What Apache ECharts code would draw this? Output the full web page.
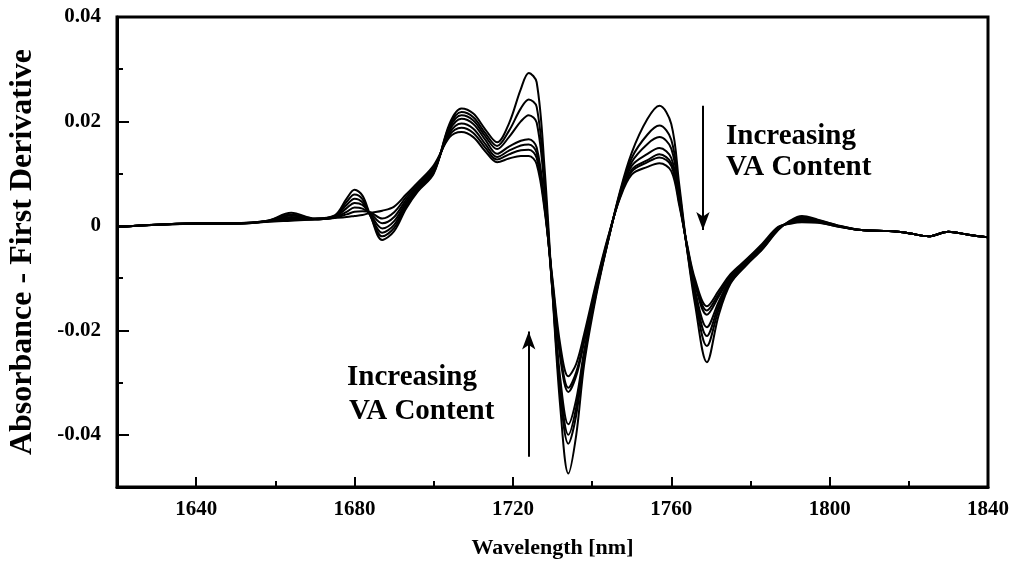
<!DOCTYPE html>
<html>
<head>
<meta charset="utf-8">
<script src="https://cdn.jsdelivr.net/npm/echarts@6/dist/echarts.min.js"></script>
<style>
  html, body { margin: 0; padding: 0; background: #fff; }
  #chart { width: 1010px; height: 567px; }
</style>
</head>
<body>
<div id="chart"></div>
<script>
// wavelength grid shared by all spectra (nm)
const wavelength = [
  1620, 1630, 1640, 1650, 1658, 1664, 1670, 1675, 1678, 1680,
  1682, 1684, 1687, 1690, 1693, 1696, 1700, 1704, 1707, 1710,
  1713, 1716, 1719, 1722, 1724, 1726, 1728, 1730, 1732, 1734,
  1736, 1738, 1741, 1744, 1747, 1750, 1754, 1757, 1760, 1762,
  1764, 1766, 1769, 1772, 1775, 1779, 1783, 1787, 1790, 1793,
  1797, 1802, 1808, 1815, 1820, 1825, 1830, 1835, 1840,
];

// first-derivative spectra, lowest VA content first
const spectrum1 = [
  -0.0002, 0.0002, 0.0005, 0.0005, 0.0010, 0.0025, 0.0014,
  0.0020, 0.0052, 0.0069, 0.0058, 0.0020, -0.0027, -0.0010, 0.0033, 0.0066, 0.0100,
  0.0196, 0.0225, 0.0215, 0.0185, 0.0160, 0.0196, 0.0262, 0.0293, 0.0275, 0.0110,
  -0.0130, -0.0350, -0.0474, -0.0400, -0.0265, -0.0135, -0.0030, 0.0065, 0.0140, 0.0205,
  0.0230, 0.0195, 0.0080, -0.0045, -0.0150, -0.0261, -0.0170, -0.0110, -0.0075, -0.0045,
  -0.0008, 0.0010, 0.0019, 0.0012, 0.0001, -0.0008, -0.0010, -0.0014, -0.0020, -0.0011,
  -0.0017, -0.0022,
];
const spectrum2 = [
  -0.0002, 0.0002, 0.0005, 0.0005, 0.0010, 0.0022, 0.0014,
  0.0019, 0.0046, 0.0060, 0.0051, 0.0019, -0.0020, -0.0004, 0.0037, 0.0068, 0.0102,
  0.0192, 0.0218, 0.0208, 0.0178, 0.0153, 0.0182, 0.0225, 0.0242, 0.0228, 0.0085,
  -0.0128, -0.0325, -0.0417, -0.0362, -0.0250, -0.0130, -0.0030, 0.0062, 0.0130, 0.0175,
  0.0192, 0.0165, 0.0068, -0.0045, -0.0138, -0.0230, -0.0160, -0.0108, -0.0074, -0.0044,
  -0.0007, 0.0009, 0.0017, 0.0011, 0.0001, -0.0008, -0.0010, -0.0014, -0.0020, -0.0011,
  -0.0017, -0.0022,
];
const spectrum3 = [
  -0.0002, 0.0002, 0.0005, 0.0005, 0.0009, 0.0020, 0.0013,
  0.0018, 0.0040, 0.0052, 0.0045, 0.0020, -0.0013, 0.0002, 0.0041, 0.0071, 0.0104,
  0.0188, 0.0212, 0.0202, 0.0172, 0.0147, 0.0170, 0.0200, 0.0212, 0.0198, 0.0070,
  -0.0125, -0.0310, -0.0400, -0.0347, -0.0245, -0.0128, -0.0030, 0.0060, 0.0122, 0.0157,
  0.0170, 0.0148, 0.0060, -0.0043, -0.0130, -0.0211, -0.0152, -0.0105, -0.0072, -0.0042,
  -0.0006, 0.0008, 0.0015, 0.0010, 0.0000, -0.0008, -0.0010, -0.0014, -0.0020, -0.0011,
  -0.0017, -0.0022,
];
const spectrum4 = [
  -0.0002, 0.0002, 0.0005, 0.0005, 0.0009, 0.0017, 0.0013,
  0.0017, 0.0034, 0.0044, 0.0040, 0.0022, -0.0005, 0.0009, 0.0045, 0.0073, 0.0106,
  0.0183, 0.0205, 0.0195, 0.0165, 0.0138, 0.0152, 0.0163, 0.0166, 0.0150, 0.0045,
  -0.0122, -0.0295, -0.0380, -0.0332, -0.0240, -0.0125, -0.0028, 0.0058, 0.0115, 0.0138,
  0.0149, 0.0130, 0.0052, -0.0042, -0.0123, -0.0194, -0.0145, -0.0102, -0.0070, -0.0040,
  -0.0005, 0.0007, 0.0013, 0.0009, 0.0000, -0.0008, -0.0010, -0.0014, -0.0020, -0.0011,
  -0.0017, -0.0022,
];
const spectrum5 = [
  -0.0002, 0.0002, 0.0004, 0.0005, 0.0009, 0.0015, 0.0013,
  0.0016, 0.0027, 0.0035, 0.0033, 0.0024, 0.0005, 0.0017, 0.0050, 0.0076, 0.0109,
  0.0178, 0.0196, 0.0186, 0.0157, 0.0132, 0.0144, 0.0154, 0.0156, 0.0140, 0.0040,
  -0.0112, -0.0255, -0.0318, -0.0287, -0.0222, -0.0118, -0.0026, 0.0056, 0.0108, 0.0126,
  0.0137, 0.0120, 0.0048, -0.0040, -0.0112, -0.0170, -0.0135, -0.0098, -0.0068, -0.0038,
  -0.0004, 0.0006, 0.0011, 0.0008, 0.0000, -0.0008, -0.0010, -0.0014, -0.0020, -0.0011,
  -0.0017, -0.0022,
];
const spectrum6 = [
  -0.0002, 0.0002, 0.0004, 0.0004, 0.0008, 0.0012, 0.0012,
  0.0016, 0.0022, 0.0027, 0.0028, 0.0026, 0.0014, 0.0026, 0.0055, 0.0079, 0.0112,
  0.0174, 0.0188, 0.0178, 0.0150, 0.0127, 0.0137, 0.0145, 0.0146, 0.0130, 0.0035,
  -0.0107, -0.0245, -0.0310, -0.0280, -0.0217, -0.0114, -0.0024, 0.0054, 0.0104, 0.0122,
  0.0131, 0.0115, 0.0045, -0.0038, -0.0108, -0.0162, -0.0130, -0.0095, -0.0066, -0.0036,
  -0.0003, 0.0005, 0.0009, 0.0007, -0.0001, -0.0008, -0.0010, -0.0014, -0.0020, -0.0011,
  -0.0017, -0.0022,
];
const spectrum7 = [
  -0.0002, 0.0002, 0.0004, 0.0004, 0.0008, 0.0010, 0.0012,
  0.0015, 0.0017, 0.0019, 0.0021, 0.0025, 0.0029, 0.0037, 0.0060, 0.0083, 0.0116,
  0.0170, 0.0180, 0.0170, 0.0143, 0.0122, 0.0129, 0.0134, 0.0134, 0.0118, 0.0030,
  -0.0102, -0.0230, -0.0288, -0.0264, -0.0207, -0.0110, -0.0022, 0.0052, 0.0098, 0.0113,
  0.0120, 0.0105, 0.0040, -0.0036, -0.0102, -0.0154, -0.0124, -0.0092, -0.0064, -0.0034,
  -0.0002, 0.0004, 0.0007, 0.0006, -0.0001, -0.0008, -0.0010, -0.0014, -0.0020, -0.0011,
  -0.0017, -0.0022,
];

const spectra = [spectrum1, spectrum2, spectrum3, spectrum4, spectrum5, spectrum6, spectrum7];

// axis ticks
const xMajorTicks = [1640, 1680, 1720, 1760, 1800, 1840];
const xMinorTicks = [1660, 1700, 1740, 1780, 1820];
const yMajorTicks = [-0.04, -0.02, 0, 0.02, 0.04];
const yMinorTicks = [-0.03, -0.01, 0.01, 0.03];

// annotation arrows [wavelength, from, to]
const arrowDown = [1768, 0.023, -0.0008];
const arrowUp = [1724, -0.0442, -0.0202];

const serif = '"Liberation Serif", "Times New Roman", serif';
const black = "#000";

function xAxisFor(ticks, major) {
  return {
    type: "value",
    min: 1620,
    max: 1840,
    position: "bottom",
    name: major ? "Wavelength [nm]" : "",
    nameLocation: "middle",
    nameGap: 50,
    nameTextStyle: { fontFamily: serif, fontWeight: "bold", fontSize: 22, color: black },
    axisLine: { show: major, onZero: false, lineStyle: { color: black, width: 3 } },
    axisTick: {
      inside: true,
      length: major ? 10 : 6,
      customValues: ticks,
      lineStyle: { color: black, width: 2 },
    },
    axisLabel: {
      show: major,
      customValues: ticks,
      margin: 12,
      fontFamily: serif,
      fontWeight: "bold",
      fontSize: 21,
      color: black,
      formatter: (v) => String(v),
    },
    splitLine: { show: false },
  };
}

function yAxisFor(ticks, major) {
  return {
    type: "value",
    min: -0.05,
    max: 0.04,
    position: "left",
    name: major ? "Absorbance - First Derivative" : "",
    nameLocation: "middle",
    nameGap: 78,
    nameTextStyle: { fontFamily: serif, fontWeight: "bold", fontSize: 32, color: black },
    axisLine: { show: major, onZero: false, lineStyle: { color: black, width: 3 } },
    axisTick: {
      inside: true,
      length: major ? 12 : 6,
      customValues: ticks,
      lineStyle: { color: black, width: 2 },
    },
    axisLabel: {
      show: major,
      customValues: ticks,
      margin: 16,
      fontFamily: serif,
      fontWeight: "bold",
      fontSize: 21,
      color: black,
      formatter: (v) => (v === 0 ? "0" : v.toFixed(2)),
    },
    splitLine: { show: false },
  };
}

const series = spectra.map((values) => ({
  type: "line",
  data: wavelength.map((w, j) => [w, values[j]]),
  showSymbol: false,
  smooth: 0.35,
  lineStyle: { color: black, width: 2 },
  silent: true,
  z: 2,
}));

series[0].markLine = {
  silent: true,
  symbol: ["none", "arrow"],
  symbolSize: [10, 18],
  lineStyle: { color: black, width: 2, type: "solid" },
  label: { show: false },
  data: [
    [{ coord: [arrowDown[0], arrowDown[1]] }, { coord: [arrowDown[0], arrowDown[2]] }],
    [{ coord: [arrowUp[0], arrowUp[1]] }, { coord: [arrowUp[0], arrowUp[2]] }],
  ],
};

function note(text, x, y) {
  return {
    type: "text",
    x,
    y,
    style: {
      text,
      font: `bold 29px ${serif}`,
      fill: black,
      align: "left",
      verticalAlign: "middle",
    },
  };
}

const chart = echarts.init(document.getElementById("chart"), null, { renderer: "canvas" });
chart.setOption({
  animation: false,
  grid: {
    left: 117,
    right: 22,
    top: 17,
    bottom: 80,
    outerBoundsMode: "none",
    containLabel: false,
    show: true,
    borderColor: black,
    borderWidth: 3,
    backgroundColor: "transparent",
  },
  xAxis: [xAxisFor(xMajorTicks, true), xAxisFor(xMinorTicks, false)],
  yAxis: [yAxisFor(yMajorTicks, true), yAxisFor(yMinorTicks, false)],
  series,
  graphic: [
    note("Increasing", 726, 137),
    note("VA Content", 726, 168),
    note("Increasing", 347, 378),
    note("VA Content", 349, 412),
  ],
});
</script>
</body>
</html>
